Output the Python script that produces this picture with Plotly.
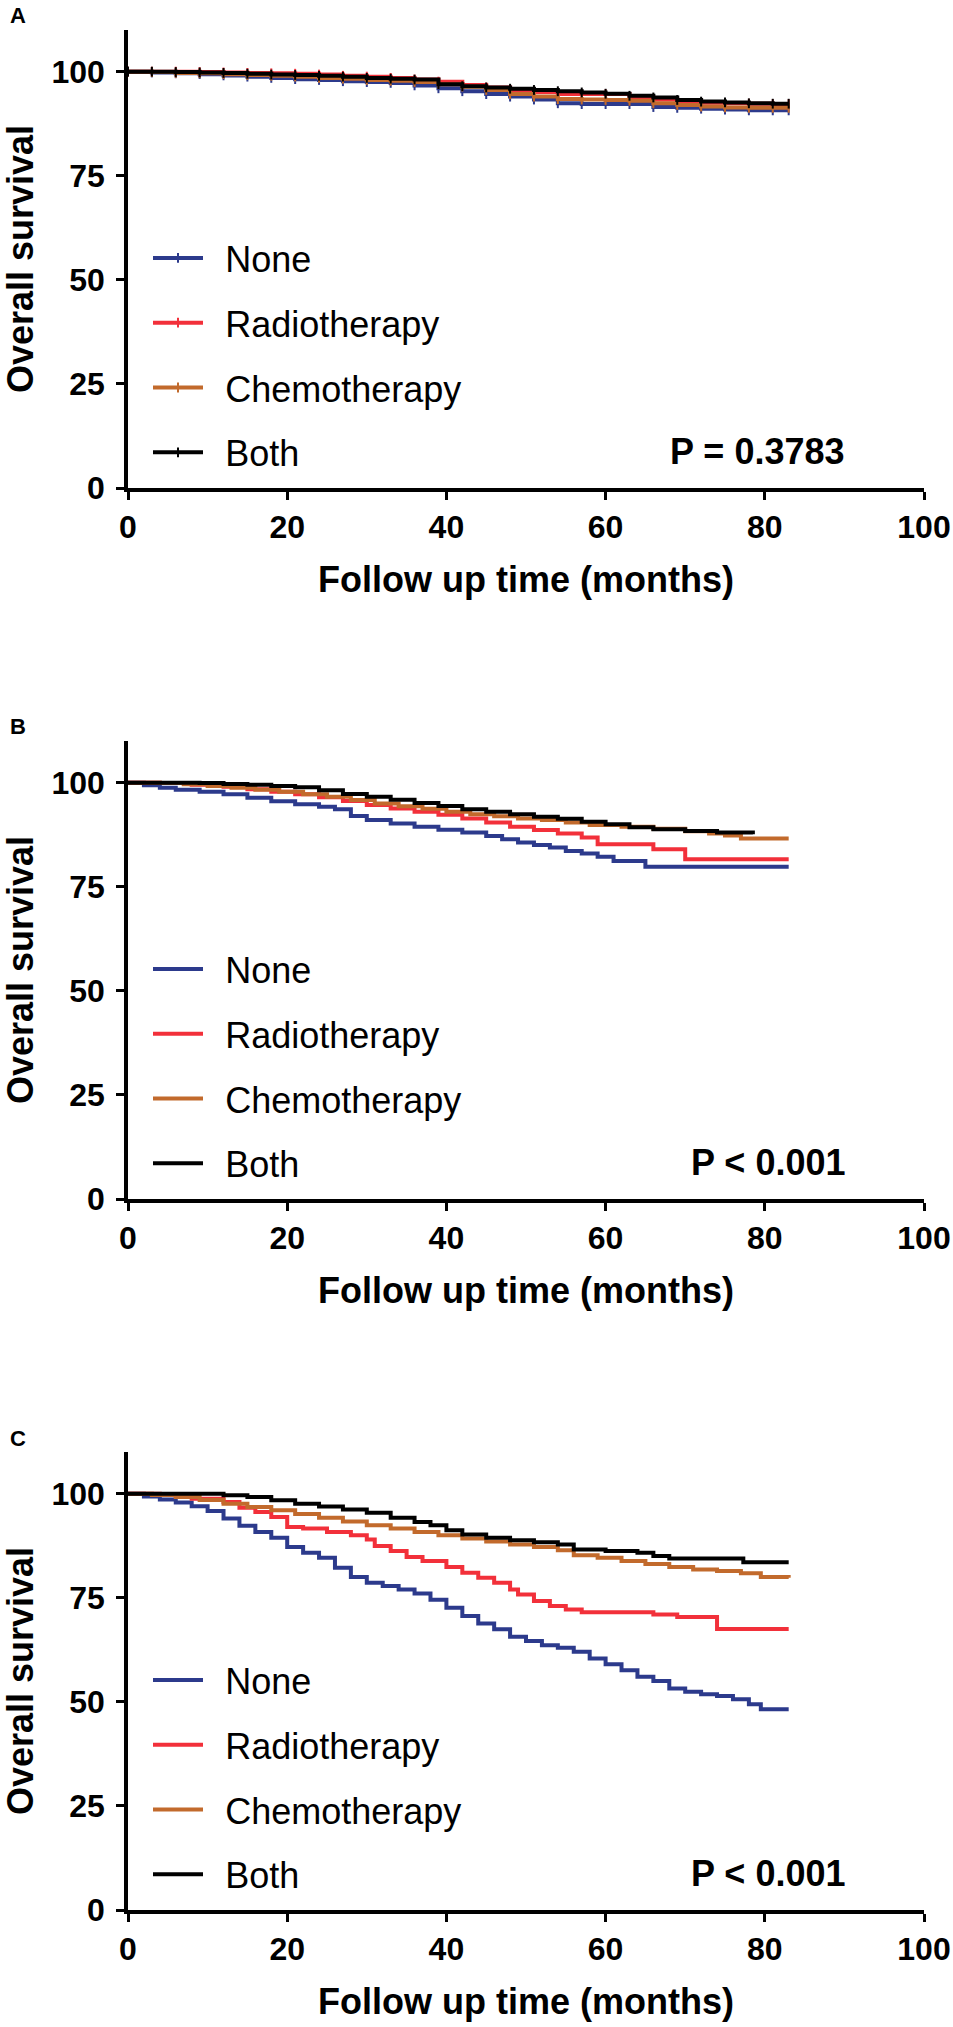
import plotly.graph_objects as go

# ---------------- DATA ----------------
groups = ["None", "Radiotherapy", "Chemotherapy", "Both"]
colors = ["#2C3A8C", "#F2303A", "#C26A2C", "#000000"]

# Panel A (censor ticks visible)
a_months = [0, 3, 6, 9, 12, 15, 18, 21, 24, 27, 30, 33, 36, 39, 42, 45, 48, 51, 54, 57, 60, 63, 66, 69, 72, 75, 78, 81, 83]
a_none = [100, 99.8, 99.6, 99.4, 99.1, 98.8, 98.5, 98.2, 98.0, 97.7, 97.5, 97.3, 96.7, 96.0, 95.3, 94.6, 94.0, 93.3, 92.4, 92.2, 92.2, 92.2, 91.5, 91.3, 91.1, 90.9, 90.7, 90.7, 90.7]
a_radio = [100, 100, 100, 99.9, 99.8, 99.7, 99.6, 99.5, 99.3, 99.0, 98.8, 98.5, 98.1, 97.6, 96.8, 96.2, 95.6, 95.1, 94.6, 94.6, 94.6, 93.8, 93.3, 92.8, 92.5, 92.4, 92.3, 92.2, 92.2]
a_chemo = [100, 99.9, 99.7, 99.6, 99.4, 99.2, 99.0, 98.8, 98.5, 98.3, 98.0, 97.8, 97.5, 97.0, 96.4, 95.6, 94.6, 94.0, 93.4, 93.3, 93.2, 93.0, 92.4, 92.0, 91.6, 91.4, 91.3, 91.3, 91.3]
a_both = [100, 100, 99.9, 99.8, 99.7, 99.5, 99.3, 99.2, 99.0, 98.8, 98.5, 98.3, 98.1, 97.0, 96.5, 96.2, 95.9, 95.6, 95.3, 95.0, 94.7, 94.2, 93.8, 93.2, 92.8, 92.6, 92.4, 92.3, 92.3]

# Panel B
b_none_t = [0, 2, 4, 6, 9, 12, 15, 18, 21, 24, 26, 28, 30, 33, 36, 39, 42, 45, 47, 49, 51, 53, 55, 57, 59, 61, 65, 83]
b_none_s = [100, 99.4, 98.8, 98.3, 97.8, 97.2, 96.4, 95.5, 94.8, 94.2, 93.6, 92.0, 91.0, 90.2, 89.4, 88.7, 88.0, 87.2, 86.4, 85.6, 85.0, 84.4, 83.6, 83.0, 82.2, 81.2, 79.8, 79.8]
b_radio_t = [0, 4, 8, 12, 15, 18, 21, 24, 27, 30, 33, 36, 39, 42, 45, 48, 51, 54, 57, 59, 66, 70, 83]
b_radio_s = [100, 99.9, 99.5, 99.0, 98.4, 97.8, 97.2, 96.5, 95.6, 94.6, 93.8, 93.0, 92.3, 91.4, 90.4, 89.4, 88.6, 87.8, 86.8, 85.2, 84.0, 81.6, 81.6]
b_chemo_t = [0, 4, 7, 10, 13, 16, 19, 22, 25, 28, 31, 34, 37, 40, 43, 46, 49, 52, 55, 58, 62, 66, 70, 73, 75, 77, 83]
b_chemo_s = [100, 99.9, 99.6, 99.2, 98.8, 98.3, 97.8, 97.2, 96.6, 95.8, 95.0, 94.3, 93.7, 93.0, 92.4, 91.9, 91.4, 91.0, 90.4, 89.8, 89.4, 88.9, 88.3, 87.8, 87.3, 86.6, 86.6]
b_both_t = [0, 5, 9, 12, 15, 18, 21, 24, 27, 30, 33, 36, 39, 42, 45, 48, 51, 54, 57, 60, 63, 66, 70, 74, 78.5]
b_both_s = [100, 100, 99.9, 99.7, 99.5, 99.2, 98.9, 98.2, 97.3, 96.6, 95.9, 95.1, 94.4, 93.6, 93.0, 92.4, 91.8, 91.3, 90.6, 90.0, 89.3, 88.8, 88.4, 88.0, 87.6]

# Panel C
c_none_t = [0, 2, 4, 6, 8, 10, 12, 14, 16, 18, 20, 22, 24, 26, 28, 30, 32, 34, 36, 38, 40, 42, 44, 46, 48, 50, 52, 54, 56, 58, 60, 62, 64, 66, 68, 70, 72, 74, 76, 78, 79.5, 83]
c_none_s = [100, 99.3, 98.6, 97.9, 97.0, 95.8, 94.0, 92.3, 90.8, 89.4, 87.2, 85.8, 84.6, 82.2, 80.0, 78.6, 77.8, 77.0, 76.0, 74.5, 72.6, 70.6, 68.8, 67.4, 65.6, 64.6, 63.6, 63.0, 62.0, 60.4, 59.0, 57.6, 56.0, 55.0, 53.2, 52.4, 51.8, 51.4, 50.6, 49.4, 48.2, 48.2]
c_radio_t = [0, 4, 6, 8, 12, 14, 16, 18, 20, 22, 25, 28, 30, 31, 33, 35, 37, 40, 42, 44, 46, 48, 49, 51, 53, 55, 57, 66, 69, 74, 83]
c_radio_s = [100, 99.8, 99.4, 98.8, 98.0, 96.6, 95.6, 94.4, 92.0, 91.6, 90.8, 90.0, 89.0, 87.4, 86.2, 84.8, 83.8, 82.4, 81.0, 79.8, 78.6, 77.0, 75.8, 74.2, 73.0, 72.2, 71.5, 71.0, 70.4, 67.5, 67.5]
c_chemo_t = [0, 3, 6, 9, 12, 15, 18, 21, 24, 27, 30, 33, 36, 39, 42, 45, 48, 51, 54, 56, 59, 62, 65, 68, 71, 74, 77, 79.5, 83]
c_chemo_s = [100, 99.7, 99.2, 98.5, 97.6, 96.8, 96.0, 95.1, 94.2, 93.3, 92.4, 91.6, 90.8, 90.0, 89.2, 88.5, 87.8, 87.2, 86.4, 85.2, 84.6, 83.8, 83.1, 82.4, 81.8, 81.4, 80.9, 80.0, 79.8]
c_both_t = [0, 10, 12, 15, 18, 21, 24, 27, 30, 33, 36, 38, 40, 42, 45, 48, 51, 54, 56, 60, 64, 66, 68, 77.3, 83]
c_both_s = [100, 100, 99.6, 99.2, 98.4, 97.6, 96.9, 96.2, 95.4, 94.2, 93.2, 92.4, 91.2, 90.2, 89.4, 88.8, 88.3, 87.8, 86.6, 86.2, 85.8, 85.0, 84.4, 83.5, 83.5]

p_texts = ["P = 0.3783", "P < 0.001", "P < 0.001"]
panel_labels = ["A", "B", "C"]
x_ticks = [0, 20, 40, 60, 80, 100]
y_ticks = [0, 25, 50, 75, 100]

panels = [
    [(a_months, a_none), (a_months, a_radio), (a_months, a_chemo), (a_months, a_both)],
    [(b_none_t, b_none_s), (b_radio_t, b_radio_s), (b_chemo_t, b_chemo_s), (b_both_t, b_both_s)],
    [(c_none_t, c_none_s), (c_radio_t, c_radio_s), (c_chemo_t, c_chemo_s), (c_both_t, c_both_s)],
]

# ---------------- LAYOUT ----------------
W, H = 953, 2027
FONT = "Liberation Sans, Arial, Helvetica, sans-serif"
NB = "\u00a0\u2009"
x_dom = [128 / W, 924 / W]
rows_px = [(30, 488), (741, 1199), (1452, 1910)]
offset = [0, 711, 1422]

fig = go.Figure()
for p, series in enumerate(panels):
    sfx = "" if p == 0 else str(p + 1)
    for g, (t, s) in enumerate(series):
        if p == 0:
            kw = dict(mode="lines+markers",
                      marker=dict(symbol="line-ns", size=7,
                                  line=dict(width=2, color=colors[g]), color=colors[g]))
        else:
            kw = dict(mode="lines")
        fig.add_trace(go.Scatter(
            x=t, y=s, name=NB + groups[g], line=dict(color=colors[g], width=4, shape="hv"),
            xaxis="x" + sfx, yaxis="y" + sfx, legend="legend" + sfx,
            legendgroup=f"{p}_{g}", showlegend=True, **kw))

layout = dict(width=W, height=H, margin=dict(l=0, r=0, t=0, b=0), autosize=False,
              plot_bgcolor="white", paper_bgcolor="white",
              font=dict(family=FONT, color="black"), annotations=[])
for p in range(3):
    sfx = "" if p == 0 else str(p + 1)
    top, bot = rows_px[p]
    ydom = [1 - bot / H, 1 - top / H]
    layout["xaxis" + sfx] = dict(
        domain=x_dom, range=[0, 100], tickvals=x_ticks, showline=True, linewidth=3.5,
        linecolor="black", ticks="outside", ticklen=8, tickwidth=3, tickcolor="black",
        showgrid=False, zeroline=False, automargin=False, anchor="y" + sfx,
        tickfont=dict(size=32, weight="bold", family=FONT),
        title=dict(text="Follow up time (months)", font=dict(size=36, weight="bold", family=FONT), standoff=24))
    layout["yaxis" + sfx] = dict(
        domain=ydom, range=[0, 110], tickvals=y_ticks, showline=True, linewidth=3.5,
        linecolor="black", ticks="outside", ticklen=8, tickwidth=3, tickcolor="black",
        showgrid=False, zeroline=False, automargin=False, anchor="x" + sfx,
        ticklabelstandoff=5,
        tickfont=dict(size=32, weight="bold", family=FONT),
        title=dict(text="Overall survival", font=dict(size=36, weight="bold", family=FONT), standoff=12))
    layout["legend" + sfx] = dict(
        x=148 / W, y=1 - (228 + offset[p]) / H, xanchor="left", yanchor="top",
        font=dict(size=36, family=FONT), bgcolor="rgba(0,0,0,0)", tracegroupgap=15,
        itemwidth=50, borderwidth=0)
    layout["annotations"].append(dict(
        text=panel_labels[p], xref="paper", yref="paper", x=8 / W, y=1 - (16 + offset[p]) / H,
        xanchor="left", yanchor="middle", showarrow=False,
        font=dict(size=22, weight="bold", family=FONT)))
    layout["annotations"].append(dict(
        text=p_texts[p], xref="x" + sfx, yref="y" + sfx, x=90.3, y=8.8,
        xanchor="right", yanchor="middle", showarrow=False,
        font=dict(size=36, weight="bold", family=FONT)))

fig.update_layout(**layout)
fig.write_html("out.html", config={"displayModeBar": False},
               post_script="document.body.style.margin='0px';document.body.style.overflow='hidden';")
